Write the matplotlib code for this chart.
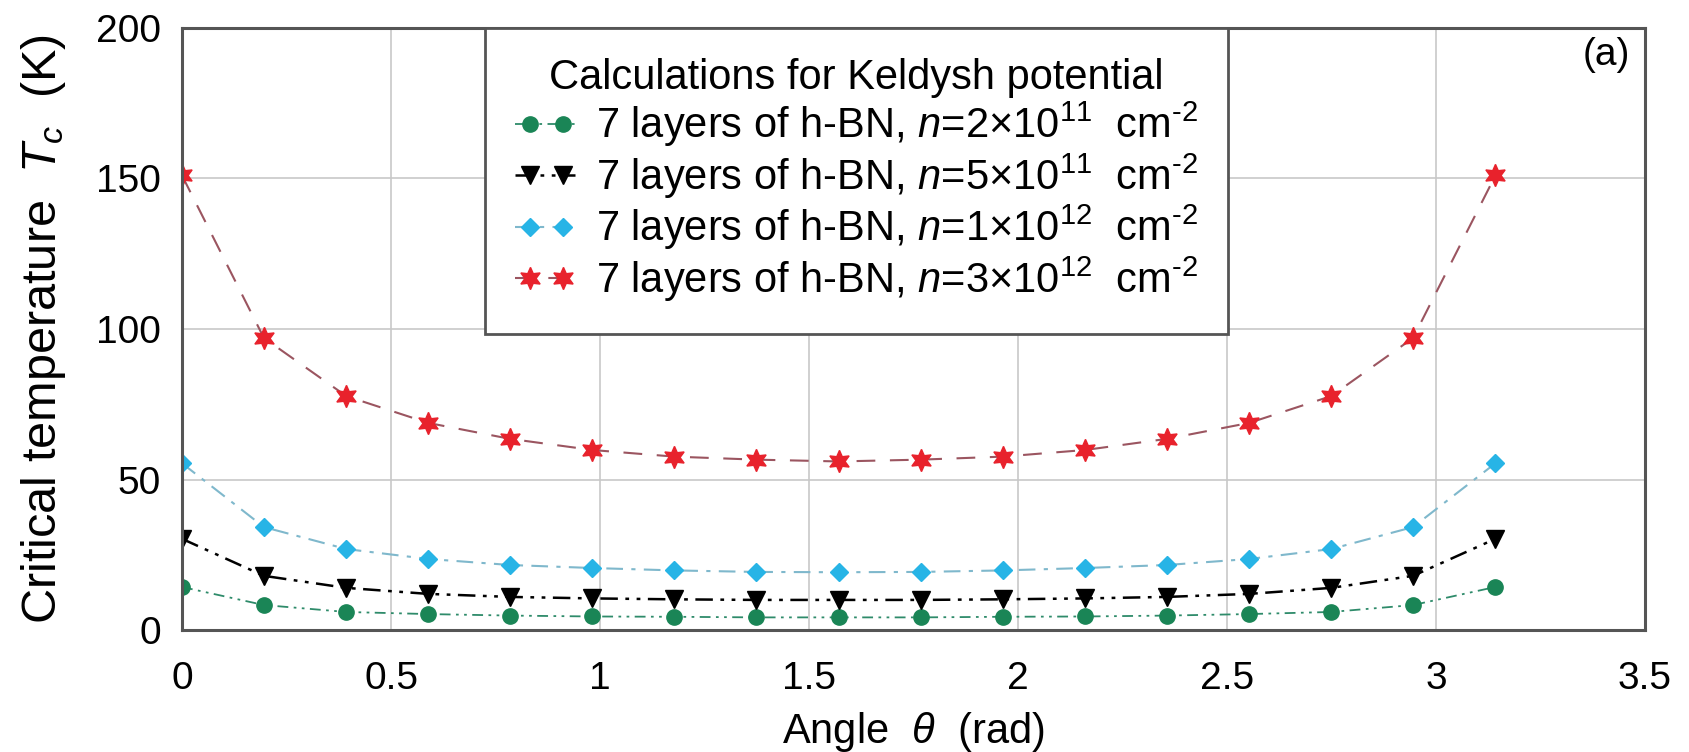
import numpy as np
import matplotlib
matplotlib.use("Agg")
import matplotlib.pyplot as plt
from matplotlib.lines import Line2D
from matplotlib.legend_handler import HandlerLine2DCompound

plt.rcParams['font.family'] = ['Liberation Sans', 'DejaVu Sans']
plt.rcParams['mathtext.fontset'] = 'custom'
plt.rcParams['mathtext.rm'] = 'Liberation Sans'
plt.rcParams['mathtext.it'] = 'Liberation Sans:italic'

# angle theta (rad), 16 steps from 0 to pi
theta = [0.0, 0.196, 0.393, 0.589, 0.785, 0.982, 1.178, 1.374, 1.571,
         1.767, 1.963, 2.160, 2.356, 2.553, 2.749, 2.945, 3.142]

# critical temperature Tc (K) for each carrier density
tc_2e11 = [14.3, 8.3, 6.0, 5.3, 4.8, 4.5, 4.4, 4.2, 4.2, 4.2, 4.4, 4.5, 4.8, 5.3, 6.0, 8.3, 14.3]
tc_5e11 = [30.3, 18.0, 14.0, 12.0, 11.0, 10.5, 10.2, 10.0, 10.0, 10.0, 10.2, 10.5, 11.0, 12.0, 14.0, 18.0, 30.3]
tc_1e12 = [55.4, 34.2, 26.9, 23.6, 21.6, 20.6, 19.8, 19.3, 19.2, 19.3, 19.8, 20.6, 21.6, 23.6, 26.9, 34.2, 55.4]
tc_3e12 = [151.0, 97.0, 77.7, 68.8, 63.5, 59.8, 57.6, 56.6, 56.0, 56.6, 57.6, 59.8, 63.5, 68.8, 77.7, 97.0, 151.0]

HY = "\u2010"  # short hyphen for the cm^-2 exponent
labels = [r"7 layers of h-BN, $n$=2$\times$10$^{11}$  cm$^{" + HY + "2}$",
          r"7 layers of h-BN, $n$=5$\times$10$^{11}$  cm$^{" + HY + "2}$",
          r"7 layers of h-BN, $n$=1$\times$10$^{12}$  cm$^{" + HY + "2}$",
          r"7 layers of h-BN, $n$=3$\times$10$^{12}$  cm$^{" + HY + "2}$"]


class InsetMarkers(HandlerLine2DCompound):
    # line spans the whole handle, the two markers sit inside it
    def get_xdata(self, legend, xdescent, ydescent, width, height, fontsize):
        xdata = np.array([-xdescent, width - xdescent])
        xmark = np.array([-xdescent + 0.25 * width, -xdescent + 0.79 * width])
        return xdata, xmark


fig = plt.figure(figsize=(16.9, 7.52), dpi=100)
ax = fig.add_axes([0.1077, 0.1622, 0.8657, 0.8006])

ax.plot(theta, tc_2e11, color='#2e8b6a', ls=(0, (6, 3, 1.5, 3, 1.5, 3)), lw=1.3,
        marker='o', ms=11, mfc='#1a8556', mec='#1a8556', label=labels[0])
ax.plot(theta, tc_5e11, color='black', ls=(0, (7, 3, 1.5, 3, 1.5, 3)), lw=1.8,
        marker='v', ms=13, mfc='black', mec='black', label=labels[1])
ax.plot(theta, tc_1e12, color='#7fb8cc', ls=(0, (8, 4, 2, 4)), lw=1.5,
        marker='D', ms=9, mfc='#27b4e6', mec='#27b4e6', label=labels[2])
ax.plot(theta, tc_3e12, color='#9b5560', ls=(0, (9, 7)), lw=1.5,
        marker=(6, 1, 0), ms=16, mfc='#e8222c', mec='#e8222c', label=labels[3])

ax.set_xlim(0, 3.5)
ax.set_ylim(0, 200)
ax.set_xticks([0, 0.5, 1, 1.5, 2, 2.5, 3, 3.5])
ax.set_xticklabels(['0', '0.5', '1', '1.5', '2', '2.5', '3', '3.5'])
ax.set_yticks([0, 50, 100, 150, 200])
ax.tick_params(length=0, labelsize=28)
ax.tick_params(axis='x', pad=22)
ax.tick_params(axis='y', pad=15)
ax.grid(True, color='#c8c8c8', lw=1.2)
ax.set_axisbelow(True)
for sp in ax.spines.values():
    sp.set_color('#555555')
    sp.set_linewidth(2.2)

ax.set_xlabel(r"Angle  $\theta$  (rad)", fontsize=30, labelpad=10)
ax.set_ylabel(r"Critical temperature  $T_c$  (K)", fontsize=35, labelpad=20)

ax.text(0.99, 0.985, "(a)", transform=ax.transAxes, ha='right', va='top', fontsize=28)

leg = ax.legend(loc='upper left', bbox_to_anchor=(0.2071, 1.0),
                title="Calculations for Keldysh potential", fontsize=30,
                title_fontsize=30, frameon=True, fancybox=False, framealpha=1,
                edgecolor='#555555', borderpad=0.72, labelspacing=0.05,
                handlelength=1.45, handletextpad=0.5, borderaxespad=0,
                handler_map={Line2D: InsetMarkers()})
leg.get_frame().set_linewidth(2.0)

fig.savefig("out.png", dpi=100)
